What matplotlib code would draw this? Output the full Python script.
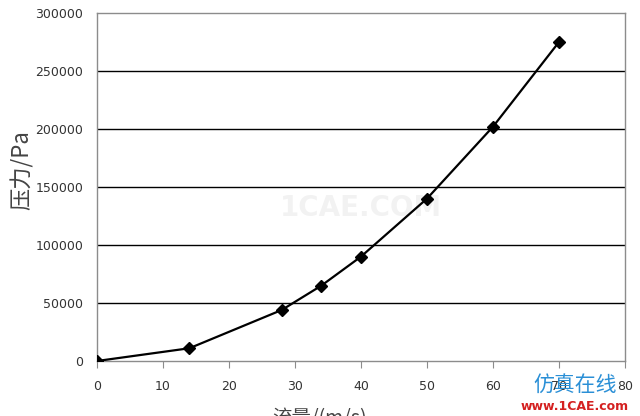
import matplotlib.pyplot as plt

# flow vs pressure data
flow = [0, 14, 28, 34, 40, 50, 60, 70]
pressure = [0, 11000, 44000, 65000, 90000, 140000, 202000, 275000]
x_ticks = [0, 10, 20, 30, 40, 50, 60, 70, 80]
y_ticks = [0, 50000, 100000, 150000, 200000, 250000, 300000]

plt.rcParams['font.family'] = ['DejaVu Sans', 'Noto Sans CJK SC']

fig = plt.figure(figsize=(6.4, 4.16), dpi=100)
ax = fig.add_axes([97 / 640, 55 / 416, 528 / 640, 348 / 416])

# horizontal grid lines
for y in y_ticks[1:-1]:
    ax.axhline(y, color='black', lw=1.0, zorder=1)

ax.plot(flow, pressure, color='black', lw=1.6, marker='D', ms=6,
        markerfacecolor='black', zorder=3)

ax.set_xlim(0, 80)
ax.set_ylim(0, 300000)
ax.set_xticks(x_ticks)
ax.set_yticks(y_ticks)
for s in ax.spines.values():
    s.set_color('#8c8c8c')
    s.set_linewidth(1.0)
ax.tick_params(axis='x', length=5, color='#8c8c8c', pad=9, labelsize=9,
               labelcolor='#333333')
ax.tick_params(axis='y', length=0, pad=10, labelsize=9, labelcolor='#333333')

fig.text(22 / 640, 246 / 416, '压力/Pa', rotation=90, ha='center', va='center',
         fontsize=16, color='#444444', family=['Noto Sans CJK SC', 'DejaVu Sans'])
fig.text(320 / 640, 8 / 416, '流量/(m/s)', ha='center', va='top',
         fontsize=14, color='#444444', family=['Noto Sans CJK SC', 'DejaVu Sans'])

# watermarks
ax.text(0.5, 0.44, '1CAE.COM', transform=ax.transAxes, ha='center', va='center',
        fontsize=20, fontweight='bold', color='#f2f2f2', zorder=0)
fig.text(575 / 640, 30 / 416, '仿真在线', ha='center', va='center', fontsize=15,
         color='#2a8fd6', family=['Noto Sans CJK SC', 'DejaVu Sans'])
fig.text(575 / 640, 9 / 416, 'www.1CAE.com', ha='center', va='center', fontsize=9,
         fontweight='bold', color='#d42020')

fig.savefig('out.png', dpi=100)
